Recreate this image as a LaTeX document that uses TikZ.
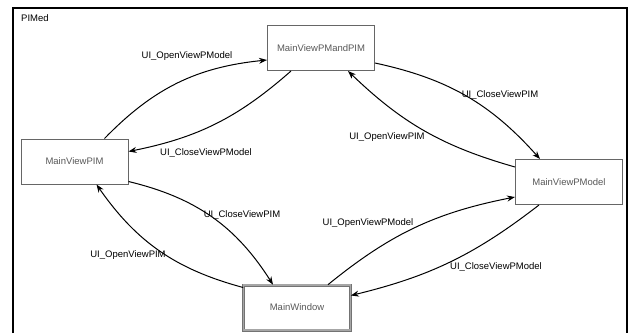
\documentclass[tikz,border=0pt]{standalone}
\usepackage{fontspec}
\setmainfont{Liberation Sans}
\usetikzlibrary{arrows.meta,positioning}
\tikzset{
  state/.style={rectangle, draw=black!60, fill=white, line width=1pt, minimum width=107pt, minimum height=45pt, inner sep=1pt, font=\fontsize{9.5}{11}\selectfont, text=black!65},
  initstate/.style={state, draw=black!55, double=black!35, double distance=1.6pt, line width=0.7pt},
  trans/.style={-{Stealth[length=8pt,width=6pt]}, line width=1pt, bend left=#1},
  trans/.default=15,
  lbl/.style={font=\fontsize{9.5}{11}\selectfont, inner sep=0pt}
}
\begin{document}
\begin{tikzpicture}[x=1pt, y=-1pt]
  \useasboundingbox (0,0) rectangle (632,333);
  % frame
  \draw[line width=1.8pt] (13,333) |- (627,8) -- (627,333);
  \node[lbl, anchor=north west] (title) at (21,14) {PIMed};
  % states
  \node[state] (pim) at (74.5,161.5) {MainViewPIM};
  \node[state] (both) at (321,48) {MainViewPMandPIM};
  \node[state] (model) at (569,182) {MainViewPModel};
  \node[initstate] (win) at (297,307.5) {MainWindow};
  % transitions
  \draw[trans=20] ([xshift=30pt]pim.north) to ([yshift=-12pt]both.west);
  \draw[trans=15] ([xshift=-30pt]both.south) to ([yshift=10pt]pim.east);
  \draw[trans=18] ([yshift=-15pt]both.east) to ([xshift=-29pt]model.north);
  \draw[trans=14] ([yshift=15pt]model.west) to ([xshift=27pt]both.south);
  \draw[trans=22] ([yshift=-20pt]pim.east) to ([xshift=-24pt]win.north);
  \draw[trans=20] ([yshift=20pt]win.west) to ([xshift=22pt]pim.south);
  \draw[trans=14] ([xshift=31pt]win.north) to ([yshift=-15pt]model.west);
  \draw[trans=12] ([xshift=-30pt]model.south) to ([yshift=12pt]win.east);
  % labels
  \node[lbl] (l1) at (187,56) {UI\_OpenViewPModel};
  \node[lbl] (l2) at (206,153) {UI\_CloseViewPModel};
  \node[lbl] (l3) at (500,95) {UI\_CloseViewPIM};
  \node[lbl] (l4) at (387,137) {UI\_OpenViewPIM};
  \node[lbl] (l5) at (242,215) {UI\_CloseViewPIM};
  \node[lbl] (l6) at (128,255) {UI\_OpenViewPIM};
  \node[lbl] (l7) at (368,223) {UI\_OpenViewPModel};
  \node[lbl] (l8) at (496,267) {UI\_CloseViewPModel};
\end{tikzpicture}
\end{document}
